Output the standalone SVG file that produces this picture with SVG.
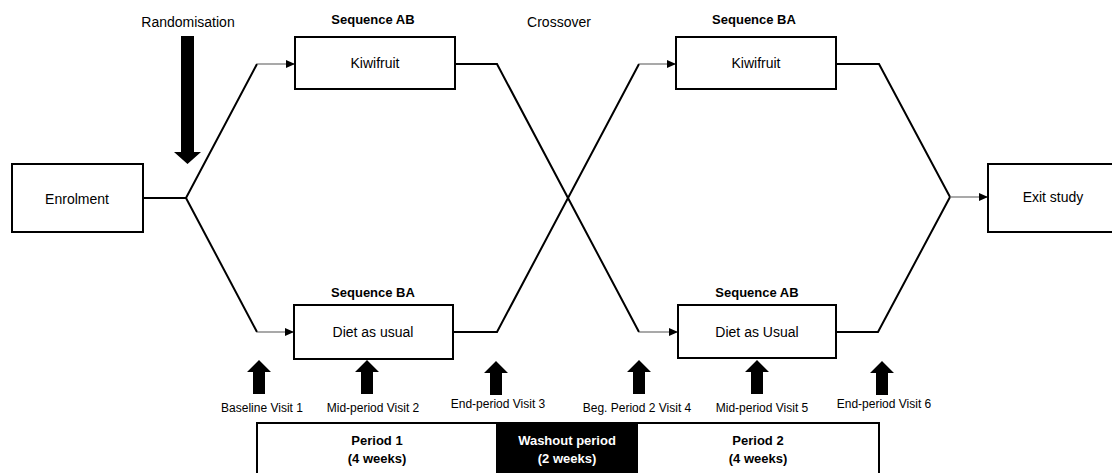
<svg xmlns="http://www.w3.org/2000/svg" width="1112" height="473" viewBox="0 0 1112 473">
<style>
  .box { fill: #fff; stroke: #000; stroke-width: 2; }
  .t { font-family: "Liberation Sans", Arial, sans-serif; font-size: 14px; fill: #000; text-anchor: middle; }
  .b { font-family: "Liberation Sans", Arial, sans-serif; font-size: 13px; font-weight: bold; fill: #000; text-anchor: middle; }
  .w { fill: #fff; }
  .s { font-family: "Liberation Sans", Arial, sans-serif; font-size: 12px; fill: #000; text-anchor: middle; }
  .thick { fill: none; stroke: #000; stroke-width: 2; stroke-linejoin: miter; }
  .thin { fill: none; stroke: #555; stroke-width: 1.2; marker-end: url(#ah); }
</style>
<defs>
  <marker id="ah" markerUnits="userSpaceOnUse" markerWidth="10" markerHeight="8" refX="9" refY="4" orient="auto">
    <path d="M0,0 L9,4 L0,8 Z" fill="#000"/>
  </marker>
  <polygon id="up" points="0,0 12,12 6,12 6,34 -6,34 -6,12 -12,12" fill="#000"/>
</defs>
<rect width="1112" height="473" fill="#fff"/>

<g id="randomisation">
  <text class="t" x="188" y="27">Randomisation</text>
  <polygon points="181,36 194,36 194,152 201,152 187.5,164 174,152 181,152" fill="#000"/>
</g>
<text class="t" x="559" y="27">Crossover</text>

<g id="connectors">
  <path class="thick" d="M143,198 L186,198 L257,64"/>
  <path class="thin" d="M257,64 L295,64"/>
  <path class="thick" d="M186,198 L257,332"/>
  <path class="thin" d="M257,332 L294,332"/>
  <path class="thick" d="M455,64 L497,64 L639,332"/>
  <path class="thin" d="M639,332 L678,332"/>
  <path class="thick" d="M453,332 L497,332 L639,64"/>
  <path class="thin" d="M639,64 L676,64"/>
  <path class="thick" d="M836,64 L879,64 L950,197"/>
  <path class="thick" d="M836,332 L878,332 L950,197"/>
  <path class="thin" d="M950,197 L988,197"/>
</g>

<g id="enrolment">
  <rect class="box" x="12" y="164" width="131" height="68"/>
  <text class="t" x="77" y="204">Enrolment</text>
</g>
<g id="kiwifruit-ab">
  <text class="b" x="373" y="24">Sequence AB</text>
  <rect class="box" x="295" y="37" width="160" height="52"/>
  <text class="t" x="375" y="68">Kiwifruit</text>
</g>
<g id="diet-ba">
  <text class="b" x="373" y="297">Sequence BA</text>
  <rect class="box" x="294" y="305" width="159" height="54"/>
  <text class="t" x="373" y="337">Diet as usual</text>
</g>
<g id="kiwifruit-ba">
  <text class="b" x="754" y="24">Sequence BA</text>
  <rect class="box" x="676" y="37" width="160" height="52"/>
  <text class="t" x="756" y="68">Kiwifruit</text>
</g>
<g id="diet-ab">
  <text class="b" x="757" y="297">Sequence AB</text>
  <rect class="box" x="678" y="305" width="158" height="53"/>
  <text class="t" x="757" y="337">Diet as Usual</text>
</g>
<g id="exit">
  <rect class="box" x="988" y="164" width="140" height="68"/>
  <text class="t" x="1053" y="202">Exit study</text>
</g>

<g id="visits">
  <use href="#up" x="259" y="360"/>
  <use href="#up" x="367" y="360"/>
  <use href="#up" x="496" y="361"/>
  <use href="#up" x="639" y="360"/>
  <use href="#up" x="757" y="360"/>
  <use href="#up" x="882" y="361"/>
  <text class="s" x="262" y="412">Baseline  Visit 1</text>
  <text class="s" x="373" y="412">Mid-period Visit 2</text>
  <text class="s" x="498" y="408">End-period Visit 3</text>
  <text class="s" x="637" y="412">Beg. Period 2 Visit 4</text>
  <text class="s" x="762" y="412">Mid-period Visit 5</text>
  <text class="s" x="884" y="408">End-period Visit 6</text>
</g>

<g id="periods">
  <rect class="box" x="257" y="423" width="622" height="60"/>
  <rect x="496" y="423" width="142" height="60" fill="#000"/>
  <text class="b" x="377" y="445">Period 1</text>
  <text class="b" x="377" y="463">(4 weeks)</text>
  <text class="b w" x="567" y="445">Washout period</text>
  <text class="b w" x="567" y="463">(2 weeks)</text>
  <text class="b" x="758" y="445">Period 2</text>
  <text class="b" x="758" y="463">(4 weeks)</text>
</g>
</svg>
